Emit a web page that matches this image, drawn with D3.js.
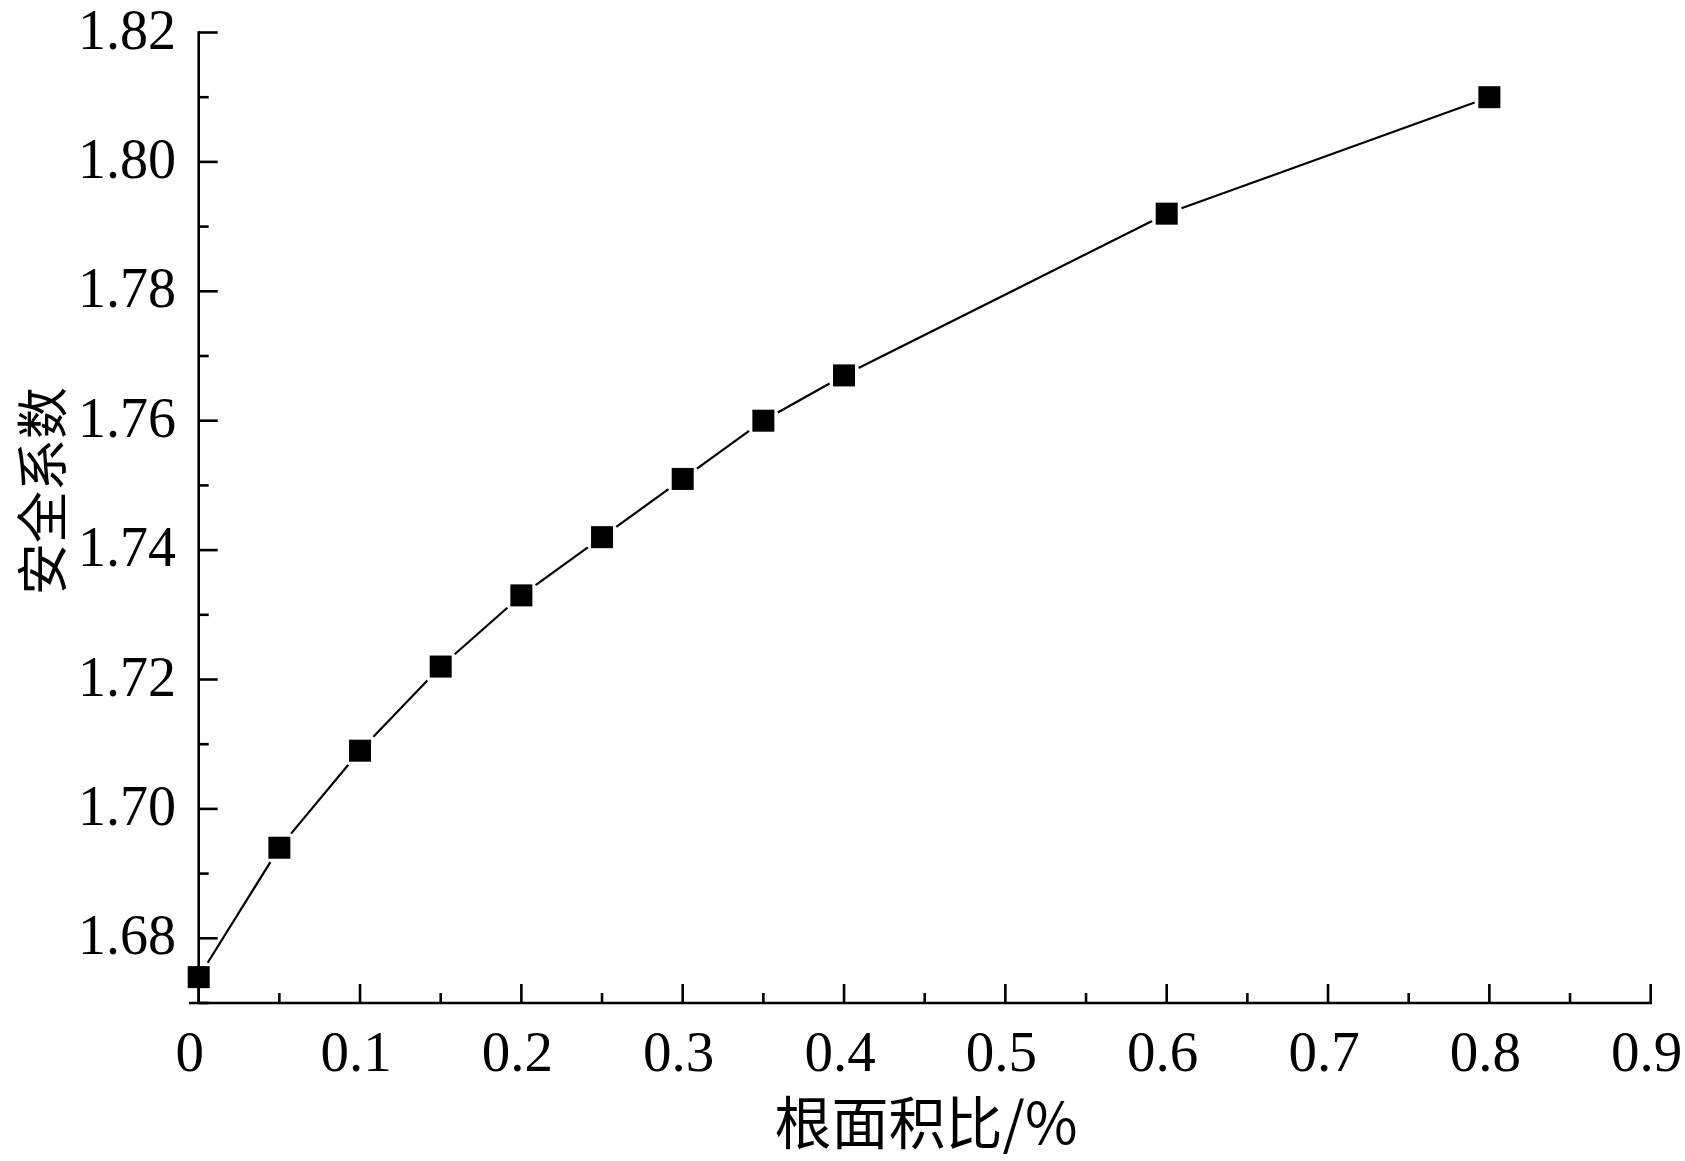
<!DOCTYPE html>
<html>
<head>
<meta charset="utf-8">
<script src="https://cdn.jsdelivr.net/npm/d3@7"></script>
<style>
html,body{margin:0;padding:0;background:#fff;}
svg{display:block;}
</style>
</head>
<body>
<svg id="chart" width="1685" height="1161"></svg>
<script>
const xValues = [0, 0.05, 0.1, 0.15, 0.2, 0.25, 0.3, 0.35, 0.4, 0.6, 0.8];
const yValues = [1.674, 1.694, 1.709, 1.722, 1.733, 1.742, 1.751, 1.760, 1.767, 1.792, 1.810];
const xTicks = [0, 0.1, 0.2, 0.3, 0.4, 0.5, 0.6, 0.7, 0.8, 0.9];
const xTickLabels = ["0", "0.1", "0.2", "0.3", "0.4", "0.5", "0.6", "0.7", "0.8", "0.9"];
const yTicks = [1.68, 1.70, 1.72, 1.74, 1.76, 1.78, 1.80, 1.82];
const yTickLabels = ["1.68", "1.70", "1.72", "1.74", "1.76", "1.78", "1.80", "1.82"];
const xTitle = "根面积比/%";
const yTitle = "安全系数";

const svg = d3.select("#chart");
const x = d3.scaleLinear().domain([0, 0.9]).range([198.7, 1650.7]);
const y = d3.scaleLinear().domain([1.67, 1.82]).range([1003, 32.5]);

const serif = "'Liberation Serif','Times New Roman',serif";
const cjk = "'Noto Sans CJK SC','Noto Sans CJK JP',sans-serif";
const axisW = 2.6;

// x axis
const gx = svg.append("g");
gx.append("line").attr("x1", 189).attr("x2", x(0.9) + axisW/2).attr("y1", y(1.67)).attr("y2", y(1.67))
  .attr("stroke", "#000").attr("stroke-width", axisW);
const xMinor = d3.range(0, 19).map(i => i * 0.05);
gx.selectAll("line.tk").data(xMinor).enter().append("line")
  .attr("x1", d => x(d)).attr("x2", d => x(d))
  .attr("y1", y(1.67)).attr("y2", (d, i) => y(1.67) - (i % 2 === 0 ? 19 : 10))
  .attr("stroke", "#000").attr("stroke-width", axisW);
gx.selectAll("text").data(xTicks).enter().append("text")
  .attr("x", (d, i) => x(d) - (i === 0 ? 9 : 4)).attr("y", 1071)
  .attr("text-anchor", "middle").attr("font-family", serif).attr("font-size", 57)
  .text((d, i) => xTickLabels[i]);

// y axis
const gy = svg.append("g");
gy.append("line").attr("x1", x(0)).attr("x2", x(0)).attr("y1", y(1.82) - axisW/2).attr("y2", y(1.67))
  .attr("stroke", "#000").attr("stroke-width", axisW);
const yMinor = d3.range(0, 16).map(i => 1.67 + i * 0.01);
gy.selectAll("line.tk").data(yMinor).enter().append("line")
  .attr("x1", x(0)).attr("x2", (d, i) => x(0) + (i % 2 === 1 ? 19 : 10))
  .attr("y1", d => y(d)).attr("y2", d => y(d))
  .attr("stroke", "#000").attr("stroke-width", axisW);
gy.selectAll("text").data(yTicks).enter().append("text")
  .attr("x", 176).attr("y", d => y(d) + 16)
  .attr("text-anchor", "end")
  .attr("font-family", serif).attr("font-size", 56)
  .text((d, i) => yTickLabels[i]);

// titles
svg.append("text").attr("x", 926).attr("y", 1119)
  .attr("text-anchor", "middle").attr("dominant-baseline", "central")
  .attr("font-family", cjk).attr("font-size", 57).text(xTitle);
svg.append("text").attr("transform", "translate(62,491) rotate(-90)")
  .attr("text-anchor", "middle")
  .attr("font-family", cjk).attr("font-size", 52).text(yTitle);

// line segments with gaps around markers
const pts = xValues.map((v, i) => [x(v), y(yValues[i])]);
const half = 11, gap = 4;
const segs = [];
for (let i = 0; i < pts.length - 1; i++) {
  const [x1, y1] = pts[i], [x2, y2] = pts[i + 1];
  const dx = x2 - x1, dy = y2 - y1, L = Math.hypot(dx, dy);
  const ux = dx / L, uy = dy / L;
  const t = half / Math.max(Math.abs(ux), Math.abs(uy)) + gap;
  segs.push([x1 + ux * t, y1 + uy * t, x2 - ux * t, y2 - uy * t]);
}
svg.append("g").selectAll("line").data(segs).enter().append("line")
  .attr("x1", d => d[0]).attr("y1", d => d[1]).attr("x2", d => d[2]).attr("y2", d => d[3])
  .attr("stroke", "#000").attr("stroke-width", 2.2);

// markers
svg.append("g").selectAll("rect").data(xValues).enter().append("rect")
  .attr("x", d => x(d) - half).attr("y", (d, i) => y(yValues[i]) - half)
  .attr("width", half * 2).attr("height", half * 2).attr("fill", "#000");
</script>
</body>
</html>
